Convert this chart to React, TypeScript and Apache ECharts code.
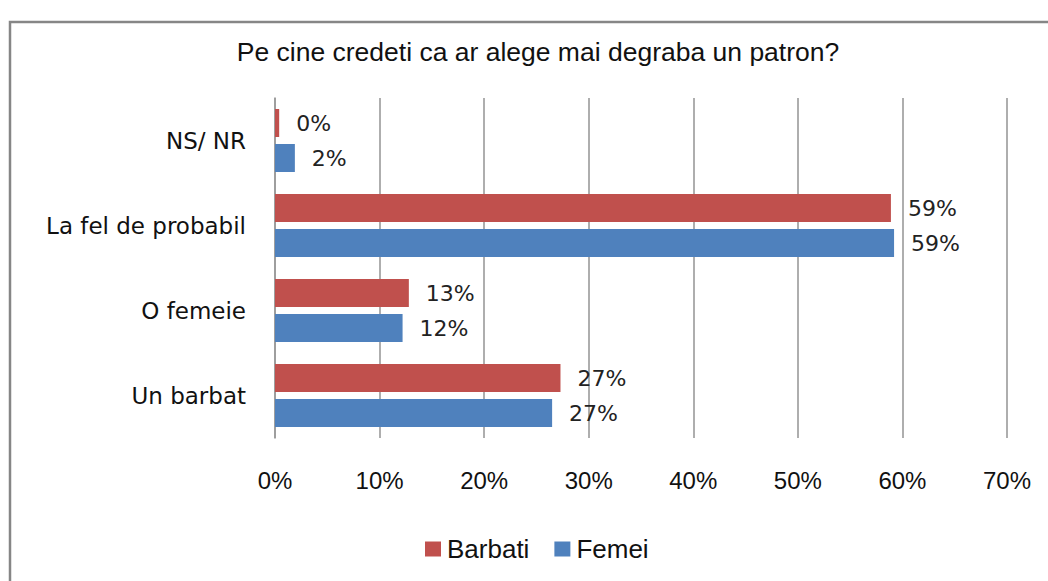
import React, { useEffect, useRef } from "react";
import * as echarts from "echarts";

const categories = ["Un barbat", "O femeie", "La fel de probabil", "NS/ NR"];
const barbati = [27.3, 12.8, 58.9, 0.4];
const femei = [26.5, 12.2, 59.2, 1.9];
const xTicks = { min: 0, max: 70, interval: 10 };
const title = "Pe cine credeti ca ar alege mai degraba un patron?";

const SANS = "'Liberation Sans', Arial, sans-serif";
const LABEL = "'DejaVu Sans', Verdana, sans-serif";

export default function App() {
  const ref = useRef<HTMLDivElement>(null);
  useEffect(() => {
    const chart = echarts.init(ref.current!, null, { renderer: "svg" });
    const labelCfg = {
      show: true,
      position: "right",
      distance: 17,
      fontSize: 22,
      fontFamily: LABEL,
      color: "#222",
      formatter: (p: any) => Math.round(p.value) + "%",
    };
    chart.setOption({
      animation: false,
      backgroundColor: "#fff",
      title: {
        text: title,
        left: 533,
        textAlign: "center",
        top: 33,
        textStyle: { fontFamily: SANS, fontSize: 26.5, fontWeight: "normal", color: "#111" },
      },
      graphic: [
        {
          type: "rect",
          shape: { x: 10, y: 22, width: 1100, height: 620 },
          style: { fill: "none", stroke: "#868686", lineWidth: 2.5 },
          z: -1,
        },
      ],
      legend: {
        data: ["Barbati", "Femei"],
        left: 425,
        top: 536,
        padding: 0,
        itemWidth: 16,
        itemHeight: 15,
        itemGap: 25,
        icon: "rect",
        textStyle: { fontFamily: SANS, fontSize: 26, color: "#111", padding: [0, 0, 0, 1] },
      },
      grid: { left: 275, right: 41, top: 98, bottom: 143, containLabel: false },
      xAxis: {
        type: "value",
        min: xTicks.min,
        max: xTicks.max,
        interval: xTicks.interval,
        axisLabel: {
          formatter: "{value}%",
          fontFamily: SANS,
          fontSize: 24,
          color: "#111",
          margin: 30,
        },
        axisLine: { show: false },
        axisTick: { show: false },
        splitLine: { show: true, lineStyle: { color: "#9a9a9a", width: 1.6 } },
      },
      yAxis: {
        type: "category",
        data: categories,
        axisLabel: { fontFamily: LABEL, fontSize: 23, color: "#111", margin: 29 },
        axisLine: { show: true, lineStyle: { color: "#9a9a9a", width: 1.6 } },
        axisTick: { show: false },
      },
      series: [
        {
          name: "Barbati",
          type: "bar",
          data: barbati,
          barWidth: 28,
          barGap: "25%",
          itemStyle: { color: "#c0504d" },
          label: labelCfg,
        },
        {
          name: "Femei",
          type: "bar",
          data: femei,
          barWidth: 28,
          barGap: "25%",
          itemStyle: { color: "#4f81bd" },
          label: labelCfg,
        },
      ],
    });
    return () => chart.dispose();
  }, []);
  return (
    <div
      ref={ref}
      style={{ position: "fixed", left: 0, top: 0, width: 1048, height: 581 }}
    />
  );
}
